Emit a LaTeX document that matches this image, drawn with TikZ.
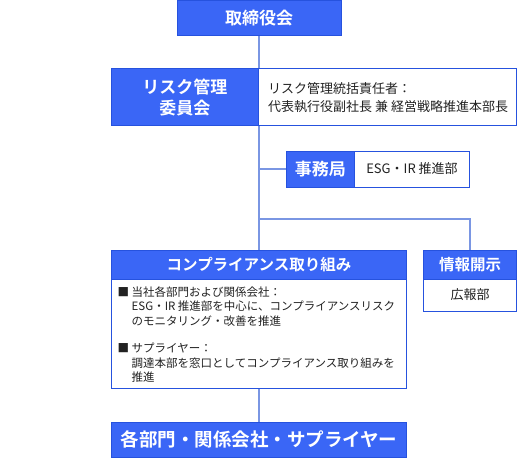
\documentclass[tikz,border=0pt]{standalone}
\usepackage{fontspec}
\setmainfont{Noto Sans CJK JP}[BoldFont={Noto Sans CJK JP Bold}]
\definecolor{bfill}{RGB}{58,102,246}
\definecolor{bdraw}{RGB}{38,82,222}
\definecolor{lcol}{RGB}{122,150,227}
\definecolor{tcol}{RGB}{34,34,34}
\begin{document}
\begin{tikzpicture}[x=1pt,y=-1pt,
  bluebox/.style={draw=bdraw, fill=bfill, line width=1pt, inner sep=0pt,
    text=white, align=center},
  whitebox/.style={draw=bdraw, fill=white, line width=1pt, inner sep=0pt, text=tcol},
  conn/.style={draw=lcol, line width=1.6pt},
  bodytxt/.style={inner sep=0pt, text=tcol, anchor=west}]
\useasboundingbox (0,0) rectangle (518,468);

\coordinate (hb) at (259,219);

\node[bluebox, minimum width=164pt, minimum height=35pt,
  font=\fontsize{17}{20}\selectfont\bfseries] (board) at (259,18.5) {取締役会};

\node[bluebox, minimum width=295pt, minimum height=29pt,
  font=\fontsize{15.5}{18}\selectfont\bfseries] (compH) at (259,264.5) {コンプライアンス取り組み};

\draw[conn] (board.south) -- (compH.north);
\draw[conn] (hb) -| (470,250) coordinate (infotop);

\node[bluebox, minimum width=146.5pt, minimum height=56.5pt,
  font=\fontsize{17}{21}\selectfont\bfseries] (riskL) at (184.75,97.25) {リスク管理\\委員会};
\node[whitebox, minimum width=258.5pt, minimum height=56.5pt] (riskR) at (387.25,97.25) {};
\node[bodytxt, align=left, font=\fontsize{13}{18.4}\selectfont] (risktxt) at (268,97.5)
  {リスク管理統括責任者：\\代表執行役副社長 兼 経営戦略推進本部長};

\node[bluebox, minimum width=68.5pt, minimum height=36pt,
  font=\fontsize{17}{20}\selectfont\bfseries] (jimuL) at (320.25,169) {事務局};
\node[whitebox, minimum width=115pt, minimum height=36pt,
  font=\fontsize{13}{16}\selectfont] (jimuR) at (412,169) {ESG・IR 推進部};
\draw[conn] (jimuL.west -| board.south) -- (jimuL.west);

\node[whitebox, minimum width=295pt, minimum height=109pt] (compB) at (259,333.5) {};
\node[bodytxt, font=\fontsize{11.5}{14.5}\selectfont] (blk1) at (117.5,307.7)
  {\begin{tabular}{@{}l@{\hspace{2.5pt}}l@{}}
   ■ & 当社各部門および関係会社：\\
     & ESG・IR 推進部を中心に、コンプライアンスリスク\\
     & のモニタリング・改善を推進
   \end{tabular}};
\node[bodytxt, font=\fontsize{11.5}{14.5}\selectfont] (blk2) at (117.5,364.3)
  {\begin{tabular}{@{}l@{\hspace{2.5pt}}l@{}}
   ■ & サプライヤー：\\
     & 調達本部を窓口としてコンプライアンス取り組みを\\
     & 推進
   \end{tabular}};

\node[bluebox, minimum width=93pt, minimum height=29pt,
  font=\fontsize{15.5}{18}\selectfont\bfseries] (infoH) at (470,264.5) {情報開示};
\node[whitebox, minimum width=93pt, minimum height=32pt,
  font=\fontsize{13}{16}\selectfont] (infoB) at (470,295) {広報部};

\node[bluebox, minimum width=295pt, minimum height=35pt,
  font=\fontsize{18.5}{22}\selectfont\bfseries] (bottom) at (259,439.5) {各部門・関係会社・サプライヤー};
\draw[conn] (compB.south) -- (bottom.north);
\end{tikzpicture}
\end{document}
